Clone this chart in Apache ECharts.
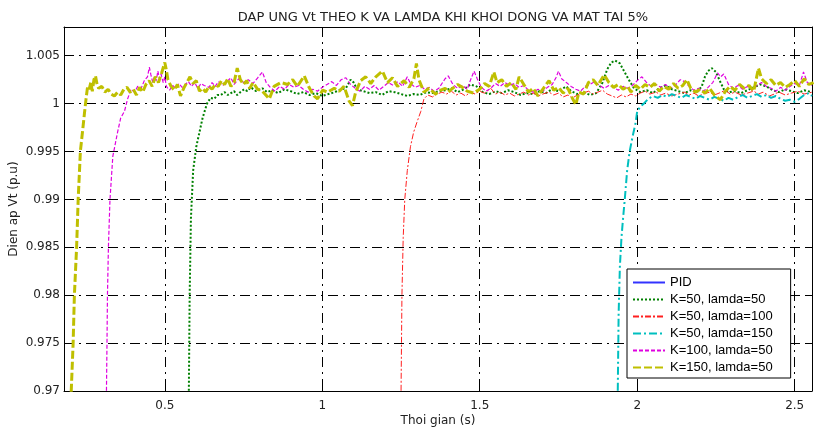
<!DOCTYPE html>
<html><head><meta charset="utf-8">
<script src="https://cdn.jsdelivr.net/npm/echarts@6/dist/echarts.min.js"></script>
<style>html,body{margin:0;padding:0;background:#fff}#c{width:814px;height:432px}</style>
</head><body><div id="c"></div>
<script>
const titleText = 'DAP UNG Vt THEO K VA LAMDA KHI KHOI DONG VA MAT TAI 5%';
const xName = 'Thoi gian (s)';
const yName = 'Dien ap Vt (p.u)';
const xTicks = [0.5, 1, 1.5, 2, 2.5];
const yTicks = [0.97, 0.975, 0.98, 0.985, 0.99, 0.995, 1, 1.005];
const seriesNames = ['PID', 'K=50, lamda=50', 'K=50, lamda=100', 'K=50, lamda=150', 'K=100, lamda=50', 'K=150, lamda=50'];

const tPID = [];
const vPID = [];

const tK50L50 = [0.574,0.5764,0.579,0.583,0.59,0.60,0.61,0.62,0.634,0.645,0.657,0.667,0.678,0.69,0.70,0.71,0.72,0.73,0.74,0.752,0.762,0.773,0.79,0.81,0.825,0.84,0.86,0.88,0.90,0.92,0.94,0.96,0.98,1.0,1.02,1.04,1.06,1.075,1.09,1.10,1.11,1.13,1.15,1.17,1.19,1.21,1.23,1.25,1.27,1.29,1.31,1.33,1.35,1.37,1.39,1.41,1.43,1.45,1.47,1.49,1.51,1.53,1.55,1.57,1.59,1.61,1.63,1.65,1.67,1.69,1.71,1.73,1.75,1.775,1.79,1.81,1.83,1.85,1.87,1.89,1.905,1.918,1.93,1.945,1.96,1.975,1.99,2.01,2.03,2.05,2.07,2.09,2.11,2.13,2.15,2.17,2.19,2.205,2.215,2.225,2.237,2.25,2.262,2.275,2.29,2.31,2.33,2.35,2.37,2.39,2.41,2.43,2.45,2.47,2.49,2.51,2.53,2.555];
const vK50L50 = [0.96,0.97,0.98,0.988,0.993,0.9955,0.997,0.9985,1.0,1.0006,1.0005,1.0009,1.0009,1.0012,1.0009,1.0011,1.0013,1.0009,1.0012,1.0015,1.0013,1.0017,1.0013,1.0016,1.0012,1.0014,1.0011,1.0015,1.0013,1.001,1.0012,1.0009,1.0011,1.0008,1.001,1.0012,1.0015,1.0016,1.0025,1.0022,1.0015,1.0013,1.0011,1.0012,1.0009,1.0013,1.0012,1.001,1.0008,1.001,1.0009,1.0012,1.0011,1.0013,1.0014,1.0016,1.0012,1.0015,1.002,1.0018,1.0012,1.001,1.0013,1.0011,1.0014,1.0012,1.0009,1.0011,1.001,1.0013,1.0011,1.0015,1.0013,1.0018,1.0013,1.001,1.0012,1.0009,1.0011,1.0022,1.0036,1.0043,1.0045,1.0042,1.0033,1.0024,1.0016,1.0012,1.0014,1.0011,1.0016,1.0019,1.0015,1.0013,1.0011,1.0014,1.0012,1.0018,1.0028,1.0034,1.0037,1.0033,1.0024,1.0015,1.0012,1.0013,1.0011,1.0014,1.0017,1.002,1.0018,1.0014,1.0012,1.0015,1.0013,1.0011,1.0014,1.0012];

const tK50L100 = [1.248,1.2502,1.253,1.257,1.262,1.27,1.28,1.29,1.30,1.313,1.323,1.335,1.35,1.365,1.38,1.395,1.41,1.425,1.44,1.455,1.47,1.485,1.50,1.515,1.535,1.55,1.565,1.58,1.595,1.61,1.625,1.64,1.655,1.67,1.685,1.70,1.72,1.735,1.75,1.765,1.78,1.795,1.81,1.83,1.845,1.86,1.875,1.89,1.905,1.92,1.935,1.95,1.965,1.98,1.995,2.01,2.025,2.04,2.06,2.075,2.09,2.11,2.13,2.15,2.165,2.18,2.195,2.21,2.23,2.245,2.26,2.28,2.295,2.31,2.33,2.35,2.37,2.385,2.40,2.42,2.435,2.45,2.47,2.49,2.51,2.53,2.555];
const vK50L100 = [0.96,0.97,0.98,0.986,0.99,0.993,0.9955,0.997,0.998,0.9992,1.0005,1.0009,1.0007,1.001,1.0012,1.001,1.0013,1.0009,1.0011,1.0008,1.0012,1.001,1.0013,1.0011,1.0016,1.001,1.0012,1.0009,1.0011,1.0008,1.001,1.0012,1.0009,1.0011,1.0008,1.001,1.0012,1.0009,1.0011,1.0007,1.0009,1.0006,1.0009,1.0011,1.0013,1.001,1.0012,1.0014,1.001,1.0008,1.0006,1.0009,1.0007,1.001,1.0008,1.0011,1.0013,1.001,1.0012,1.0009,1.0011,1.0008,1.001,1.0012,1.0009,1.0011,1.0008,1.001,1.0012,1.0009,1.0011,1.0014,1.001,1.0012,1.0009,1.0011,1.0013,1.001,1.0012,1.0008,1.001,1.0012,1.0009,1.0011,1.0013,1.001,1.0012];

const tK50L150 = [1.936,1.9383,1.941,1.945,1.95,1.955,1.9605,1.968,1.976,1.985,1.995,2.0,2.01,2.021,2.035,2.05,2.065,2.08,2.095,2.11,2.125,2.14,2.155,2.17,2.185,2.2,2.215,2.23,2.245,2.26,2.275,2.29,2.305,2.32,2.335,2.35,2.365,2.38,2.395,2.41,2.425,2.44,2.455,2.47,2.485,2.50,2.515,2.53,2.545,2.555];
const vK50L150 = [0.96,0.97,0.978,0.983,0.986,0.988,0.99,0.993,0.995,0.9965,0.998,0.9992,0.9997,1.0,1.0005,1.0008,1.0006,1.0009,1.0007,1.001,1.0008,1.0006,1.0009,1.0007,1.0005,1.0008,1.0006,1.0004,1.0007,1.0005,1.0003,1.0006,1.0004,1.0007,1.0009,1.0006,1.0008,1.001,1.0007,1.0009,1.0006,1.0008,1.0005,1.0003,1.0004,1.0002,1.0005,1.0009,1.0011,1.0008];

const tK100L50 = [0.313,0.3148,0.3165,0.318,0.321,0.326,0.335,0.35,0.36,0.372,0.382,0.393,0.404,0.414,0.425,0.435,0.445,0.451,0.456,0.462,0.467,0.473,0.478,0.483,0.488,0.495,0.50,0.505,0.515,0.525,0.535,0.545,0.555,0.565,0.575,0.585,0.595,0.605,0.615,0.625,0.64,0.65,0.66,0.67,0.685,0.70,0.71,0.72,0.735,0.75,0.765,0.78,0.795,0.81,0.822,0.835,0.85,0.865,0.88,0.895,0.91,0.925,0.94,0.955,0.97,0.985,1.0,1.015,1.03,1.045,1.06,1.075,1.09,1.105,1.12,1.135,1.15,1.165,1.18,1.195,1.21,1.225,1.24,1.255,1.27,1.28,1.295,1.31,1.325,1.34,1.355,1.37,1.39,1.40,1.415,1.43,1.445,1.46,1.47,1.482,1.492,1.505,1.52,1.535,1.55,1.565,1.58,1.595,1.61,1.625,1.64,1.655,1.67,1.685,1.70,1.715,1.73,1.742,1.75,1.76,1.775,1.79,1.805,1.82,1.835,1.85,1.865,1.88,1.895,1.91,1.925,1.94,1.955,1.97,1.985,2.0,2.015,2.03,2.045,2.06,2.075,2.09,2.105,2.12,2.137,2.15,2.165,2.18,2.195,2.21,2.225,2.24,2.255,2.265,2.275,2.29,2.305,2.32,2.335,2.35,2.365,2.38,2.395,2.41,2.425,2.44,2.455,2.47,2.485,2.50,2.515,2.528,2.54,2.555];
const vK100L50 = [0.96,0.97,0.975,0.98,0.985,0.99,0.9945,0.997,0.9985,0.9992,1.0005,1.0015,1.0012,1.0018,1.0016,1.0024,1.0028,1.0038,1.003,1.0022,1.0028,1.0024,1.0034,1.0026,1.0031,1.0022,1.0028,1.0018,1.0014,1.0019,1.0016,1.0021,1.0017,1.002,1.0023,1.0018,1.0022,1.0016,1.0021,1.0019,1.0017,1.0022,1.0018,1.0023,1.0019,1.0024,1.0027,1.002,1.0026,1.0022,1.0025,1.0021,1.0027,1.0033,1.0022,1.0017,1.0013,1.0018,1.0015,1.002,1.0017,1.0019,1.0015,1.0012,1.0015,1.0013,1.0017,1.002,1.0023,1.0019,1.0025,1.0027,1.002,1.0016,1.0013,1.0018,1.0015,1.0019,1.0014,1.0018,1.0022,1.0019,1.0023,1.0018,1.0028,1.0021,1.0017,1.0019,1.0015,1.0017,1.0013,1.0016,1.0026,1.0029,1.002,1.0016,1.0019,1.0015,1.0024,1.0034,1.0026,1.0017,1.0013,1.0016,1.0021,1.0018,1.0022,1.0019,1.0021,1.0017,1.0019,1.0014,1.0012,1.0015,1.0013,1.0017,1.002,1.0027,1.0034,1.0026,1.0022,1.0018,1.0015,1.0013,1.0018,1.002,1.0023,1.0019,1.0016,1.0019,1.0017,1.0014,1.0018,1.0016,1.0019,1.0024,1.0028,1.0022,1.0018,1.002,1.0017,1.002,1.0016,1.0019,1.0025,1.0023,1.0018,1.0014,1.0016,1.0013,1.0017,1.0022,1.0032,1.0028,1.0031,1.002,1.0016,1.0019,1.0015,1.0018,1.0014,1.0019,1.0022,1.0018,1.0016,1.0013,1.0017,1.0014,1.0018,1.0021,1.0019,1.0033,1.0022,1.0019];

const tK150L50 = [0.19,0.203,0.209,0.213,0.22,0.225,0.232,0.245,0.25,0.255,0.26,0.265,0.27,0.275,0.28,0.285,0.29,0.30,0.31,0.32,0.33,0.34,0.35,0.36,0.37,0.38,0.39,0.40,0.41,0.42,0.43,0.44,0.45,0.46,0.47,0.48,0.49,0.50,0.505,0.51,0.52,0.53,0.54,0.55,0.56,0.57,0.58,0.59,0.60,0.61,0.62,0.63,0.64,0.65,0.66,0.67,0.68,0.69,0.70,0.71,0.72,0.73,0.74,0.75,0.76,0.77,0.78,0.795,0.81,0.832,0.847,0.869,0.89,0.906,0.921,0.943,0.958,0.974,0.985,1.001,1.017,1.038,1.054,1.069,1.085,1.096,1.106,1.122,1.138,1.154,1.17,1.191,1.207,1.223,1.239,1.26,1.276,1.291,1.299,1.307,1.323,1.339,1.36,1.376,1.39,1.40,1.41,1.43,1.445,1.46,1.48,1.50,1.515,1.53,1.545,1.555,1.57,1.585,1.60,1.615,1.625,1.64,1.655,1.67,1.685,1.70,1.72,1.735,1.75,1.765,1.78,1.795,1.805,1.815,1.83,1.845,1.86,1.875,1.895,1.91,1.925,1.94,1.955,1.97,1.98,1.995,2.01,2.025,2.04,2.055,2.07,2.085,2.10,2.115,2.13,2.145,2.158,2.17,2.185,2.2,2.215,2.23,2.245,2.264,2.28,2.295,2.31,2.325,2.34,2.355,2.37,2.385,2.395,2.41,2.425,2.44,2.455,2.47,2.485,2.50,2.515,2.53,2.545,2.56];
const vK150L50 = [0.955,0.97,0.975,0.98,0.985,0.99,0.995,0.999,1.0005,1.0018,1.0015,1.0022,1.0013,1.0025,1.0029,1.002,1.0016,1.0018,1.0012,1.0015,1.001,1.0008,1.0012,1.0009,1.0015,1.0017,1.0012,1.0015,1.0009,1.0017,1.0012,1.002,1.0024,1.0018,1.0028,1.0022,1.0032,1.0043,1.0035,1.0025,1.0018,1.0014,1.002,1.0008,1.0016,1.0022,1.0028,1.0021,1.0024,1.0013,1.0016,1.0012,1.0018,1.0015,1.002,1.0018,1.0024,1.002,1.0026,1.0018,1.0022,1.0037,1.0025,1.002,1.0024,1.0016,1.0022,1.0015,1.0013,1.0005,1.0018,1.0022,1.002,1.0025,1.0018,1.0029,1.0017,1.0008,1.0005,1.0014,1.0012,1.0016,1.0013,1.0018,1.0003,0.9998,1.0012,1.0024,1.0028,1.0021,1.0028,1.0034,1.0022,1.0027,1.0018,1.0024,1.0017,1.0026,1.0042,1.0025,1.0012,1.0016,1.001,1.0014,1.0016,1.0012,1.0015,1.002,1.0017,1.0013,1.0011,1.0015,1.0021,1.0018,1.0033,1.0022,1.0025,1.0018,1.0022,1.0015,1.0028,1.002,1.0012,1.0016,1.0008,1.0015,1.0024,1.0014,1.0017,1.0011,1.0016,1.0005,0.9999,1.0012,1.001,1.0022,1.0025,1.0019,1.003,1.0022,1.0017,1.002,1.0015,1.0018,1.0012,1.0019,1.0015,1.002,1.0017,1.0021,1.0013,1.0018,1.0015,1.0021,1.0016,1.0019,1.0025,1.0016,1.0012,1.0015,1.0011,1.0016,1.0009,1.0004,1.0013,1.0018,1.0014,1.002,1.0016,1.0019,1.0013,1.0037,1.0026,1.0021,1.0025,1.0019,1.0022,1.0017,1.002,1.0024,1.0018,1.0026,1.002,1.0022];

function zip(t, v) { return t.map((x, i) => [x, v[i]]); }

const FONT = 'DejaVu Sans';
const LEGEND_FONT = 'Liberation Sans';
const styles = [
  { color: '#3333ff', width: 1, type: 'solid' },
  { color: '#008000', width: 2, type: [2, 2] },
  { color: '#ff2020', width: 1, type: [6, 2, 2, 2] },
  { color: '#00bfbf', width: 2, type: [8, 3, 2, 3] },
  { color: '#e000e0', width: 1.2, type: [4, 2] },
  { color: '#bfbf00', width: 3, type: [8, 3] }
];
const datasets = [
  zip(tPID, vPID), zip(tK50L50, vK50L50), zip(tK50L100, vK50L100),
  zip(tK50L150, vK50L150), zip(tK100L50, vK100L50), zip(tK150L50, vK150L50)
];

const chart = echarts.init(document.getElementById('c'), null, { renderer: 'canvas' });
const gridLine = { show: true, lineStyle: { color: '#000', width: 1, type: [10, 5, 2, 5] } };
const axisLineStyle = { show: true, onZero: false, lineStyle: { color: '#000', width: 1 } };

chart.setOption({
  animation: false,
  backgroundColor: '#fff',
  title: {
    text: titleText, left: 438, top: 6, textAlign: 'center',
    textStyle: { fontFamily: FONT, fontSize: 13, fontWeight: 'normal', color: '#222' }
  },
  grid: { left: 64, right: 2, top: 27, bottom: 41, containLabel: false, outerBoundsMode: 'none' },
  legend: {
    orient: 'vertical', left: 627, top: 269,
    backgroundColor: '#fff', borderColor: '#000', borderWidth: 1, borderRadius: 0,
    padding: [5, 18, 2, 5], itemWidth: 32, itemHeight: 14, itemGap: 0,
    itemStyle: { color: 'rgba(0,0,0,0)', borderWidth: 0, opacity: 0 },
    textStyle: { fontFamily: LEGEND_FONT, fontSize: 13, color: '#000', lineHeight: 17 },
    data: seriesNames
  },
  xAxis: [{
    type: 'value', min: 0.18, max: 2.555, position: 'bottom',
    name: xName, nameLocation: 'middle', nameGap: 24, nameMoveOverlap: false,
    nameTextStyle: { fontFamily: FONT, fontSize: 12, color: '#222' },
    axisLine: axisLineStyle,
    axisTick: { show: true, inside: true, length: 5, customValues: xTicks, lineStyle: { color: '#000' } },
    axisLabel: { customValues: xTicks, margin: 9, fontFamily: FONT, fontSize: 12, color: '#222' },
    splitLine: gridLine
  }, {
    type: 'value', min: 0.18, max: 2.555, position: 'top',
    axisLine: axisLineStyle,
    axisTick: { show: true, inside: true, length: 5, customValues: xTicks, lineStyle: { color: '#000' } },
    axisLabel: { show: false },
    splitLine: { show: false }
  }],
  yAxis: [{
    type: 'value', min: 0.97, max: 1.008, position: 'left',
    name: yName, nameLocation: 'middle', nameGap: 44, nameRotate: 90, nameMoveOverlap: false,
    nameTextStyle: { fontFamily: FONT, fontSize: 12, color: '#222' },
    axisLine: axisLineStyle,
    axisTick: { show: true, inside: true, length: 5, customValues: yTicks, lineStyle: { color: '#000' } },
    axisLabel: { customValues: yTicks, margin: 4, fontFamily: FONT, fontSize: 12, color: '#222' },
    splitLine: gridLine
  }, {
    type: 'value', min: 0.97, max: 1.008, position: 'right',
    axisLine: axisLineStyle,
    axisTick: { show: true, inside: true, length: 5, customValues: yTicks, lineStyle: { color: '#000' } },
    axisLabel: { show: false },
    splitLine: { show: false }
  }],
  series: seriesNames.map((name, i) => ({
    name, type: 'line', xAxisIndex: 0, yAxisIndex: 0,
    data: datasets[i], symbol: 'none', showSymbol: false, clip: true,
    lineStyle: { color: styles[i].color, width: styles[i].width, type: styles[i].type },
    itemStyle: { color: styles[i].color },
    emphasis: { disabled: true }
  }))
});
</script>
</body></html>
